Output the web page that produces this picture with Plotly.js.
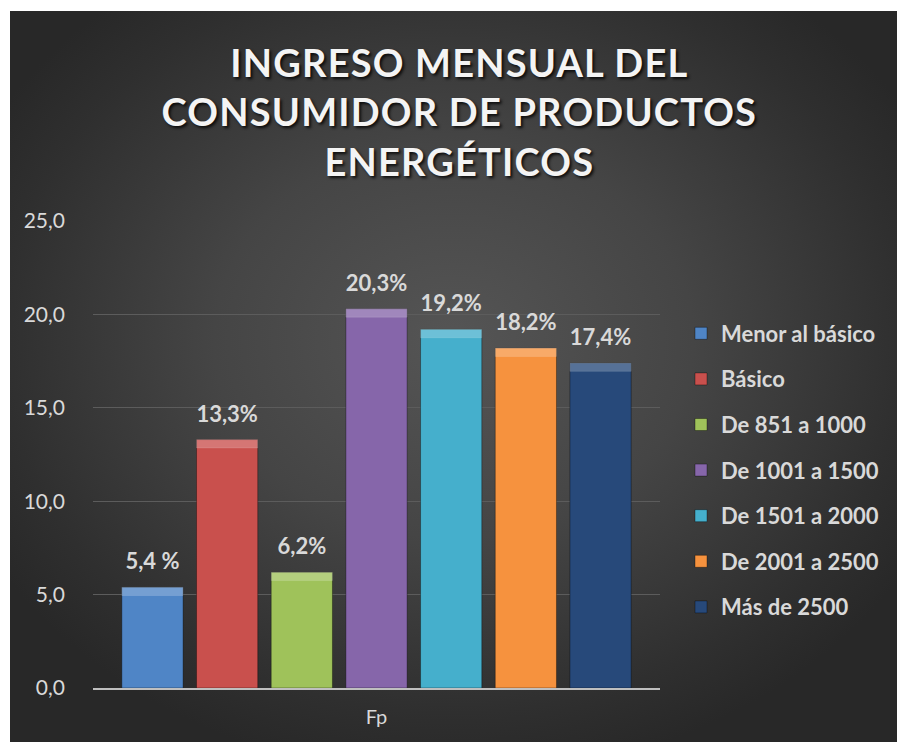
<!DOCTYPE html>
<html>
<head>
<meta charset="utf-8">
<script src="https://cdn.plot.ly/plotly-3.0.1.min.js"></script>
<style>
  html, body { margin:0; padding:0; background:#ffffff; }
  #wrap { position:relative; width:899px; height:742px; overflow:hidden; }
  #bg { position:absolute; left:10px; top:11px; right:2px; bottom:0px;
        background: radial-gradient(ellipse 60% 60% at 50% 45%, #555555 0%, #454545 45%, #2f2f2f 85%, #282828 100%); }
  #chart { position:absolute; left:0; top:0; width:899px; height:742px; }
  .gtitle { letter-spacing: 1.2px; }
</style>
</head>
<body>
<div id="wrap"><div id="bg"></div><div id="chart"></div></div>
<script>
const category = ["Fp"];
const seriesNames = ["Menor al básico", "Básico", "De 851 a 1000", "De 1001 a 1500", "De 1501 a 2000", "De 2001 a 2500", "Más de 2500"];
const seriesValues = [5.4, 13.3, 6.2, 20.3, 19.2, 18.2, 17.4];
const seriesLabels = ["5,4 %", "13,3%", "6,2%", "20,3%", "19,2%", "18,2%", "17,4%"];
const seriesColors = ["#4f85c6", "#c9504d", "#9fc25a", "#8666aa", "#45afcc", "#f6923e", "#27497a"];
const yTicks = [0, 5, 10, 15, 20, 25];

const FONT = "Lato, 'Open Sans', sans-serif";
const BEVEL = 0.45; // visual height of the top bevel highlight (axis units)

const mainTraces = seriesNames.map((name, i) => ({
  type: "bar",
  name: name,
  x: category,
  y: [seriesValues[i]],
  text: [seriesLabels[i]],
  texttemplate: "<span style='font-size:22px'>%{text}</span><br> ",
  textposition: "outside",
  constraintext: "none",
  cliponaxis: false,
  textfont: { family: FONT, size: 10, color: "#d9d9d9", weight: 700 },
  marker: { color: seriesColors[i], line: { color: "rgba(0,0,0,0.35)", width: 1 } },
  offsetgroup: "s" + i,
  legendgroup: "g" + i,
  hoverinfo: "skip"
}));

const bevelTraces = seriesNames.map((name, i) => ({
  type: "bar",
  name: name,
  x: category,
  y: [BEVEL],
  base: [seriesValues[i] - BEVEL],
  marker: { color: "rgba(255,255,255,0.22)", line: { color: "rgba(255,255,255,0.12)", width: 1 } },
  offsetgroup: "s" + i,
  legendgroup: "g" + i,
  showlegend: false,
  hoverinfo: "skip"
}));

const layout = {
  width: 899, height: 742,
  paper_bgcolor: "rgba(0,0,0,0)",
  plot_bgcolor: "rgba(0,0,0,0)",
  separators: ",.",
  margin: { l: 93, r: 239, t: 221, b: 54 },
  barmode: "group",
  bargap: 0.078,
  bargroupgap: 0.18,
  title: {
    text: "INGRESO MENSUAL DEL<br>CONSUMIDOR DE PRODUCTOS<br>ENERGÉTICOS",
    font: { family: FONT, size: 38, color: "#f4f4f4", weight: 700, shadow: "2px 2px 3px rgba(0,0,0,0.8)" },
    x: 0.511, xref: "container", xanchor: "center",
    y: 1 - 77 / 742, yref: "container", yanchor: "middle"
  },
  xaxis: {
    type: "category",
    showline: true, linecolor: "#bfbfbf", linewidth: 2,
    showgrid: false, zeroline: false, ticks: "",
    tickfont: { family: FONT, size: 20, color: "#d9d9d9" },
    ticklabelstandoff: 10,
    fixedrange: true
  },
  yaxis: {
    range: [0, 25],
    tickvals: yTicks,
    tickformat: ".1f",
    showgrid: true, gridcolor: "#5c5c5c", gridwidth: 1,
    zeroline: false, showline: false, ticks: "",
    tickfont: { family: FONT, size: 21, color: "#d9d9d9" },
    ticklabelstandoff: 27,
    fixedrange: true
  },
  showlegend: true,
  legend: {
    x: 681 / 899, xref: "container", xanchor: "left",
    y: 1 - 470.5 / 742, yref: "container", yanchor: "middle",
    bgcolor: "rgba(0,0,0,0)",
    font: { family: FONT, size: 22, color: "#d9d9d9", weight: 700 },
    tracegroupgap: 14,
    itemclick: false, itemdoubleclick: false
  }
};

Plotly.newPlot("chart", mainTraces.concat(bevelTraces), layout, { displayModeBar: false, staticPlot: true });
</script>
</body>
</html>
